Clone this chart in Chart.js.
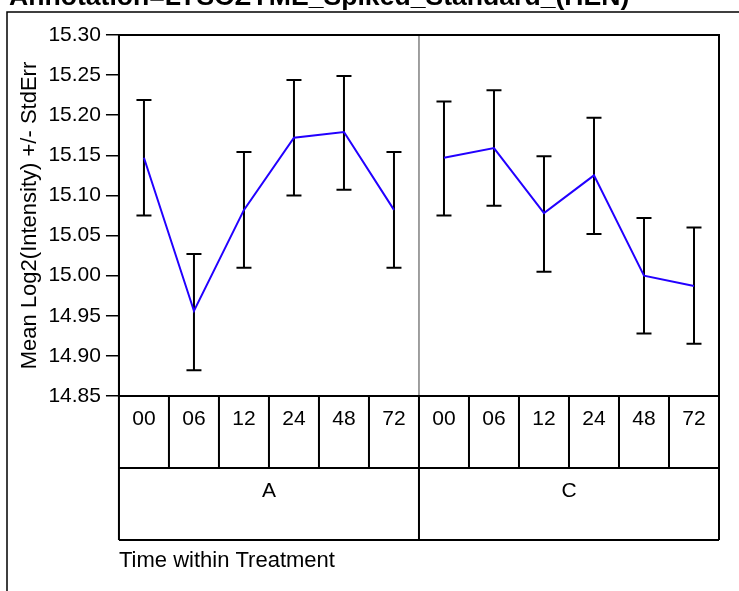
<!DOCTYPE html>
<html>
<head>
<meta charset="utf-8">
<script src="https://cdn.jsdelivr.net/npm/chart.js@4/dist/chart.umd.min.js"></script>
<style>
  html, body { margin: 0; padding: 0; background: #fff; }
  #grafico { display: block; }
</style>
</head>
<body>
<canvas id="grafico" width="739" height="591"></canvas>
<script>
// --- DATOS ---
const tituloGrafico = 'Annotation=LYSOZYME_Spiked_Standard_(HEN)';
const etiquetasTiempo = ['00', '06', '12', '24', '48', '72'];
const tratamientos = ['A', 'C'];

const mediaA = [15.147, 14.956, 15.082, 15.172, 15.179, 15.082];
const bajoA  = [15.075, 14.882, 15.010, 15.100, 15.107, 15.010];
const altoA  = [15.219, 15.027, 15.154, 15.244, 15.249, 15.154];

const mediaC = [15.147, 15.159, 15.078, 15.125, 15.000, 14.987];
const bajoC  = [15.075, 15.087, 15.005, 15.052, 14.928, 14.915];
const altoC  = [15.217, 15.231, 15.149, 15.197, 15.072, 15.060];

const ejeYMin = 14.85;
const ejeYMax = 15.30;
const ejeYPaso = 0.05;

// --- ESTRUCTURA PARA CHART.JS ---
const etiquetasX = [];
tratamientos.forEach(t => etiquetasTiempo.forEach(h => etiquetasX.push(t + ' ' + h)));

const nT = etiquetasTiempo.length;
const relleno = new Array(nT).fill(null);
const serieA = mediaA.concat(relleno);
const serieC = relleno.concat(mediaC);
const bajos = bajoA.concat(bajoC);
const altos = altoA.concat(altoC);

const fuente = '"Liberation Sans", Arial, sans-serif';

// marco, titulo, barras de error y tabla de categorias
const pluginDibujo = {
  id: 'dibujoExtra',
  beforeDraw(chart) {
    const ctx = chart.ctx;
    ctx.save();
    ctx.fillStyle = '#fff';
    ctx.fillRect(0, 0, chart.width, chart.height);
    ctx.restore();
  },
  beforeDatasetsDraw(chart) {
    const ctx = chart.ctx;
    const xs = chart.scales.x, ys = chart.scales.y;
    const ca = chart.chartArea;
    const paso = xs.getPixelForValue(1) - xs.getPixelForValue(0);
    // separador gris entre tratamientos
    ctx.save();
    ctx.strokeStyle = '#808080';
    ctx.lineWidth = 1.5;
    const xDiv = xs.getPixelForValue(nT) - paso / 2;
    ctx.beginPath();
    ctx.moveTo(xDiv, ca.top);
    ctx.lineTo(xDiv, ca.bottom);
    ctx.stroke();
    // barras de error
    ctx.strokeStyle = '#000';
    ctx.lineWidth = 2;
    for (let i = 0; i < bajos.length; i++) {
      const x = xs.getPixelForValue(i);
      const y1 = ys.getPixelForValue(bajos[i]);
      const y2 = ys.getPixelForValue(altos[i]);
      ctx.beginPath();
      ctx.moveTo(x, y1); ctx.lineTo(x, y2);
      ctx.moveTo(x - 7.5, y1); ctx.lineTo(x + 7.5, y1);
      ctx.moveTo(x - 7.5, y2); ctx.lineTo(x + 7.5, y2);
      ctx.stroke();
    }
    ctx.restore();
  },
  afterDraw(chart) {
    const ctx = chart.ctx;
    const xs = chart.scales.x;
    const ca = chart.chartArea;
    const paso = xs.getPixelForValue(1) - xs.getPixelForValue(0);
    const fila1 = ca.bottom + 72;
    const fila2 = fila1 + 72;
    ctx.save();
    ctx.strokeStyle = '#000';
    ctx.fillStyle = '#000';

    // marco exterior
    ctx.lineWidth = 1.5;
    ctx.beginPath();
    ctx.moveTo(7, chart.height);
    ctx.lineTo(7, 12);
    ctx.lineTo(chart.width, 12);
    ctx.stroke();

    // titulo (recortado arriba)
    ctx.font = 'bold 26.6px ' + fuente;
    ctx.textAlign = 'left';
    ctx.textBaseline = 'alphabetic';
    ctx.fillText(tituloGrafico, 9, 5);

    // borde del area del grafico
    ctx.lineWidth = 2;
    ctx.strokeRect(ca.left, ca.top, ca.right - ca.left, ca.bottom - ca.top);

    // tabla de categorias
    ctx.beginPath();
    ctx.moveTo(ca.left, fila1); ctx.lineTo(ca.right, fila1);
    ctx.moveTo(ca.left, fila2); ctx.lineTo(ca.right, fila2);
    for (let i = 0; i <= etiquetasX.length; i++) {
      const x = xs.getPixelForValue(i) - paso / 2;
      ctx.moveTo(x, ca.bottom);
      ctx.lineTo(x, i % nT === 0 ? fila2 : fila1);
    }
    ctx.stroke();

    ctx.textAlign = 'center';
    ctx.font = '21px ' + fuente;
    etiquetasX.forEach((_, i) => {
      ctx.fillText(etiquetasTiempo[i % nT], xs.getPixelForValue(i), ca.bottom + 28.5);
    });
    tratamientos.forEach((t, k) => {
      const x0 = xs.getPixelForValue(k * nT) - paso / 2;
      const x1 = xs.getPixelForValue((k + 1) * nT - 1) + paso / 2;
      ctx.fillText(t, (x0 + x1) / 2, fila1 + 29);
    });

    ctx.textAlign = 'left';
    ctx.font = '22px ' + fuente;
    ctx.fillText('Time within Treatment', ca.left, fila2 + 27);
    ctx.restore();
  }
};

const ctx = document.getElementById('grafico').getContext('2d');
const miGrafico = new Chart(ctx, {
  type: 'line',
  data: {
    labels: etiquetasX,
    datasets: [
      { label: 'A', data: serieA, borderColor: '#2200ff', borderWidth: 2, pointRadius: 0, spanGaps: false, tension: 0 },
      { label: 'C', data: serieC, borderColor: '#2200ff', borderWidth: 2, pointRadius: 0, spanGaps: false, tension: 0 }
    ]
  },
  options: {
    responsive: false,
    animation: false,
    devicePixelRatio: 1,
    layout: { padding: { left: 10, right: 20, top: 35, bottom: 195 } },
    plugins: {
      legend: { display: false },
      tooltip: { enabled: false },
      title: { display: false }
    },
    scales: {
      x: {
        type: 'category',
        offset: true,
        display: false
      },
      y: {
        min: ejeYMin,
        max: ejeYMax,
        ticks: {
          stepSize: ejeYPaso,
          color: '#000',
          font: { size: 21, family: fuente },
          padding: 5,
          callback: v => Number(v).toFixed(2)
        },
        grid: { drawOnChartArea: false, tickLength: 13, color: '#000', lineWidth: 1.5 },
        border: { color: '#000', width: 2 },
        title: {
          display: true,
          text: 'Mean Log2(Intensity) +/- StdErr',
          color: '#000',
          font: { size: 22, family: fuente },
          padding: { top: 7, bottom: 0 }
        }
      }
    }
  },
  plugins: [pluginDibujo]
});
</script>
</body>
</html>
